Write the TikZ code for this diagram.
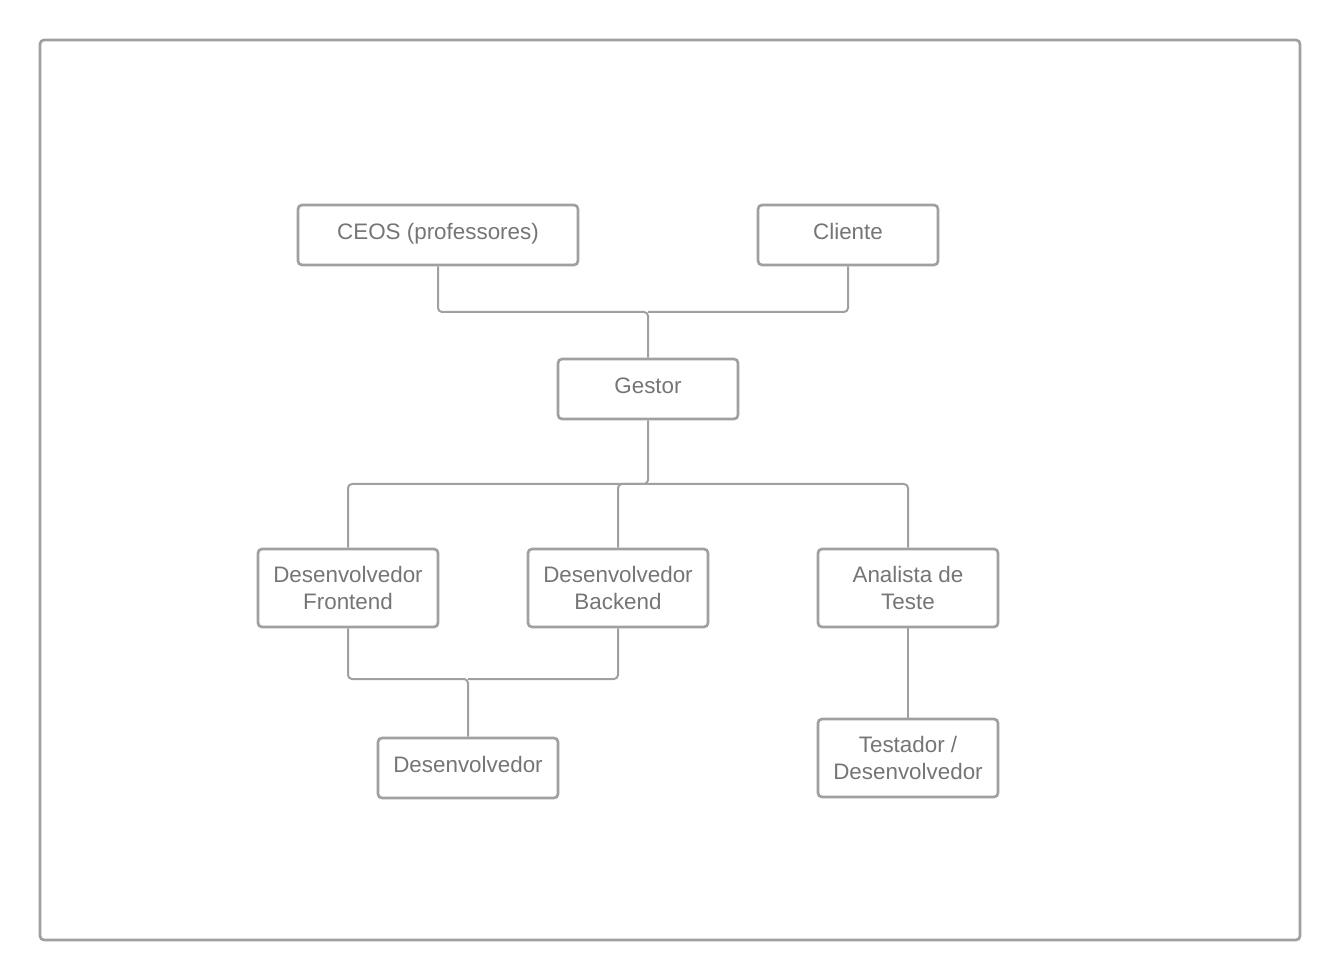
\documentclass[tikz,border=0pt]{standalone}
\usepackage{fontspec}
\setmainfont{Liberation Sans}
\usetikzlibrary{calc}
\definecolor{linegray}{HTML}{A0A0A0}
\definecolor{textgray}{HTML}{757575}

\begin{document}
\begin{tikzpicture}[
    x=0.75pt, y=-0.75pt,
    role/.style={rectangle, draw=linegray, line width=2pt, rounded corners=3pt, text=textgray,
      minimum width=135pt, minimum height=45pt, align=center, inner sep=0pt,
      text height=12.5pt, text depth=6.3pt,
      font=\fontsize{16.8}{20.25}\selectfont},
    tallrole/.style={role, minimum height=58.5pt, text height={}, text depth={}},
    link/.style={draw=linegray, line width=1.5pt, rounded corners=3pt}
]
\useasboundingbox (0,0) rectangle (1340,980);
\draw[linegray, line width=2pt, rounded corners=3pt] (40,40) rectangle (1300,940);

% Roles
\node[role, minimum width=210pt] (ceos) at (438,235) {CEOS (professores)};
\node[role] (cliente) at (848,235) {Cliente};
\node[role] (gestor) at (648,389) {Gestor};
\node[tallrole] (front) at (348,588) {Desenvolvedor\\Frontend};
\node[tallrole] (back) at (618,588) {Desenvolvedor\\Backend};
\node[tallrole] (analista) at (908,588) {Analista de\\Teste};
\node[role] (dev) at (468,768) {Desenvolvedor};
\node[tallrole] (testador) at (908,758) {Testador /\\Desenvolvedor};

% Junctions
\coordinate (topjoin) at (648,312);
\coordinate (midjoin) at (648,484);
\coordinate (devjoin) at (468,679);

% Links
\draw[link] (ceos.south) |- (topjoin) -- (gestor.north);
\draw[link] (cliente.south) |- (topjoin);
\draw[link] (gestor.south) -- (midjoin) -| (front.north);
\draw[link] (midjoin) -| (back.north);
\draw[link] (midjoin) -| (analista.north);
\draw[link] (front.south) |- (devjoin) -- (dev.north);
\draw[link] (back.south) |- (devjoin);
\draw[link] (analista.south) -- (testador.north);

\end{tikzpicture}
\end{document}
